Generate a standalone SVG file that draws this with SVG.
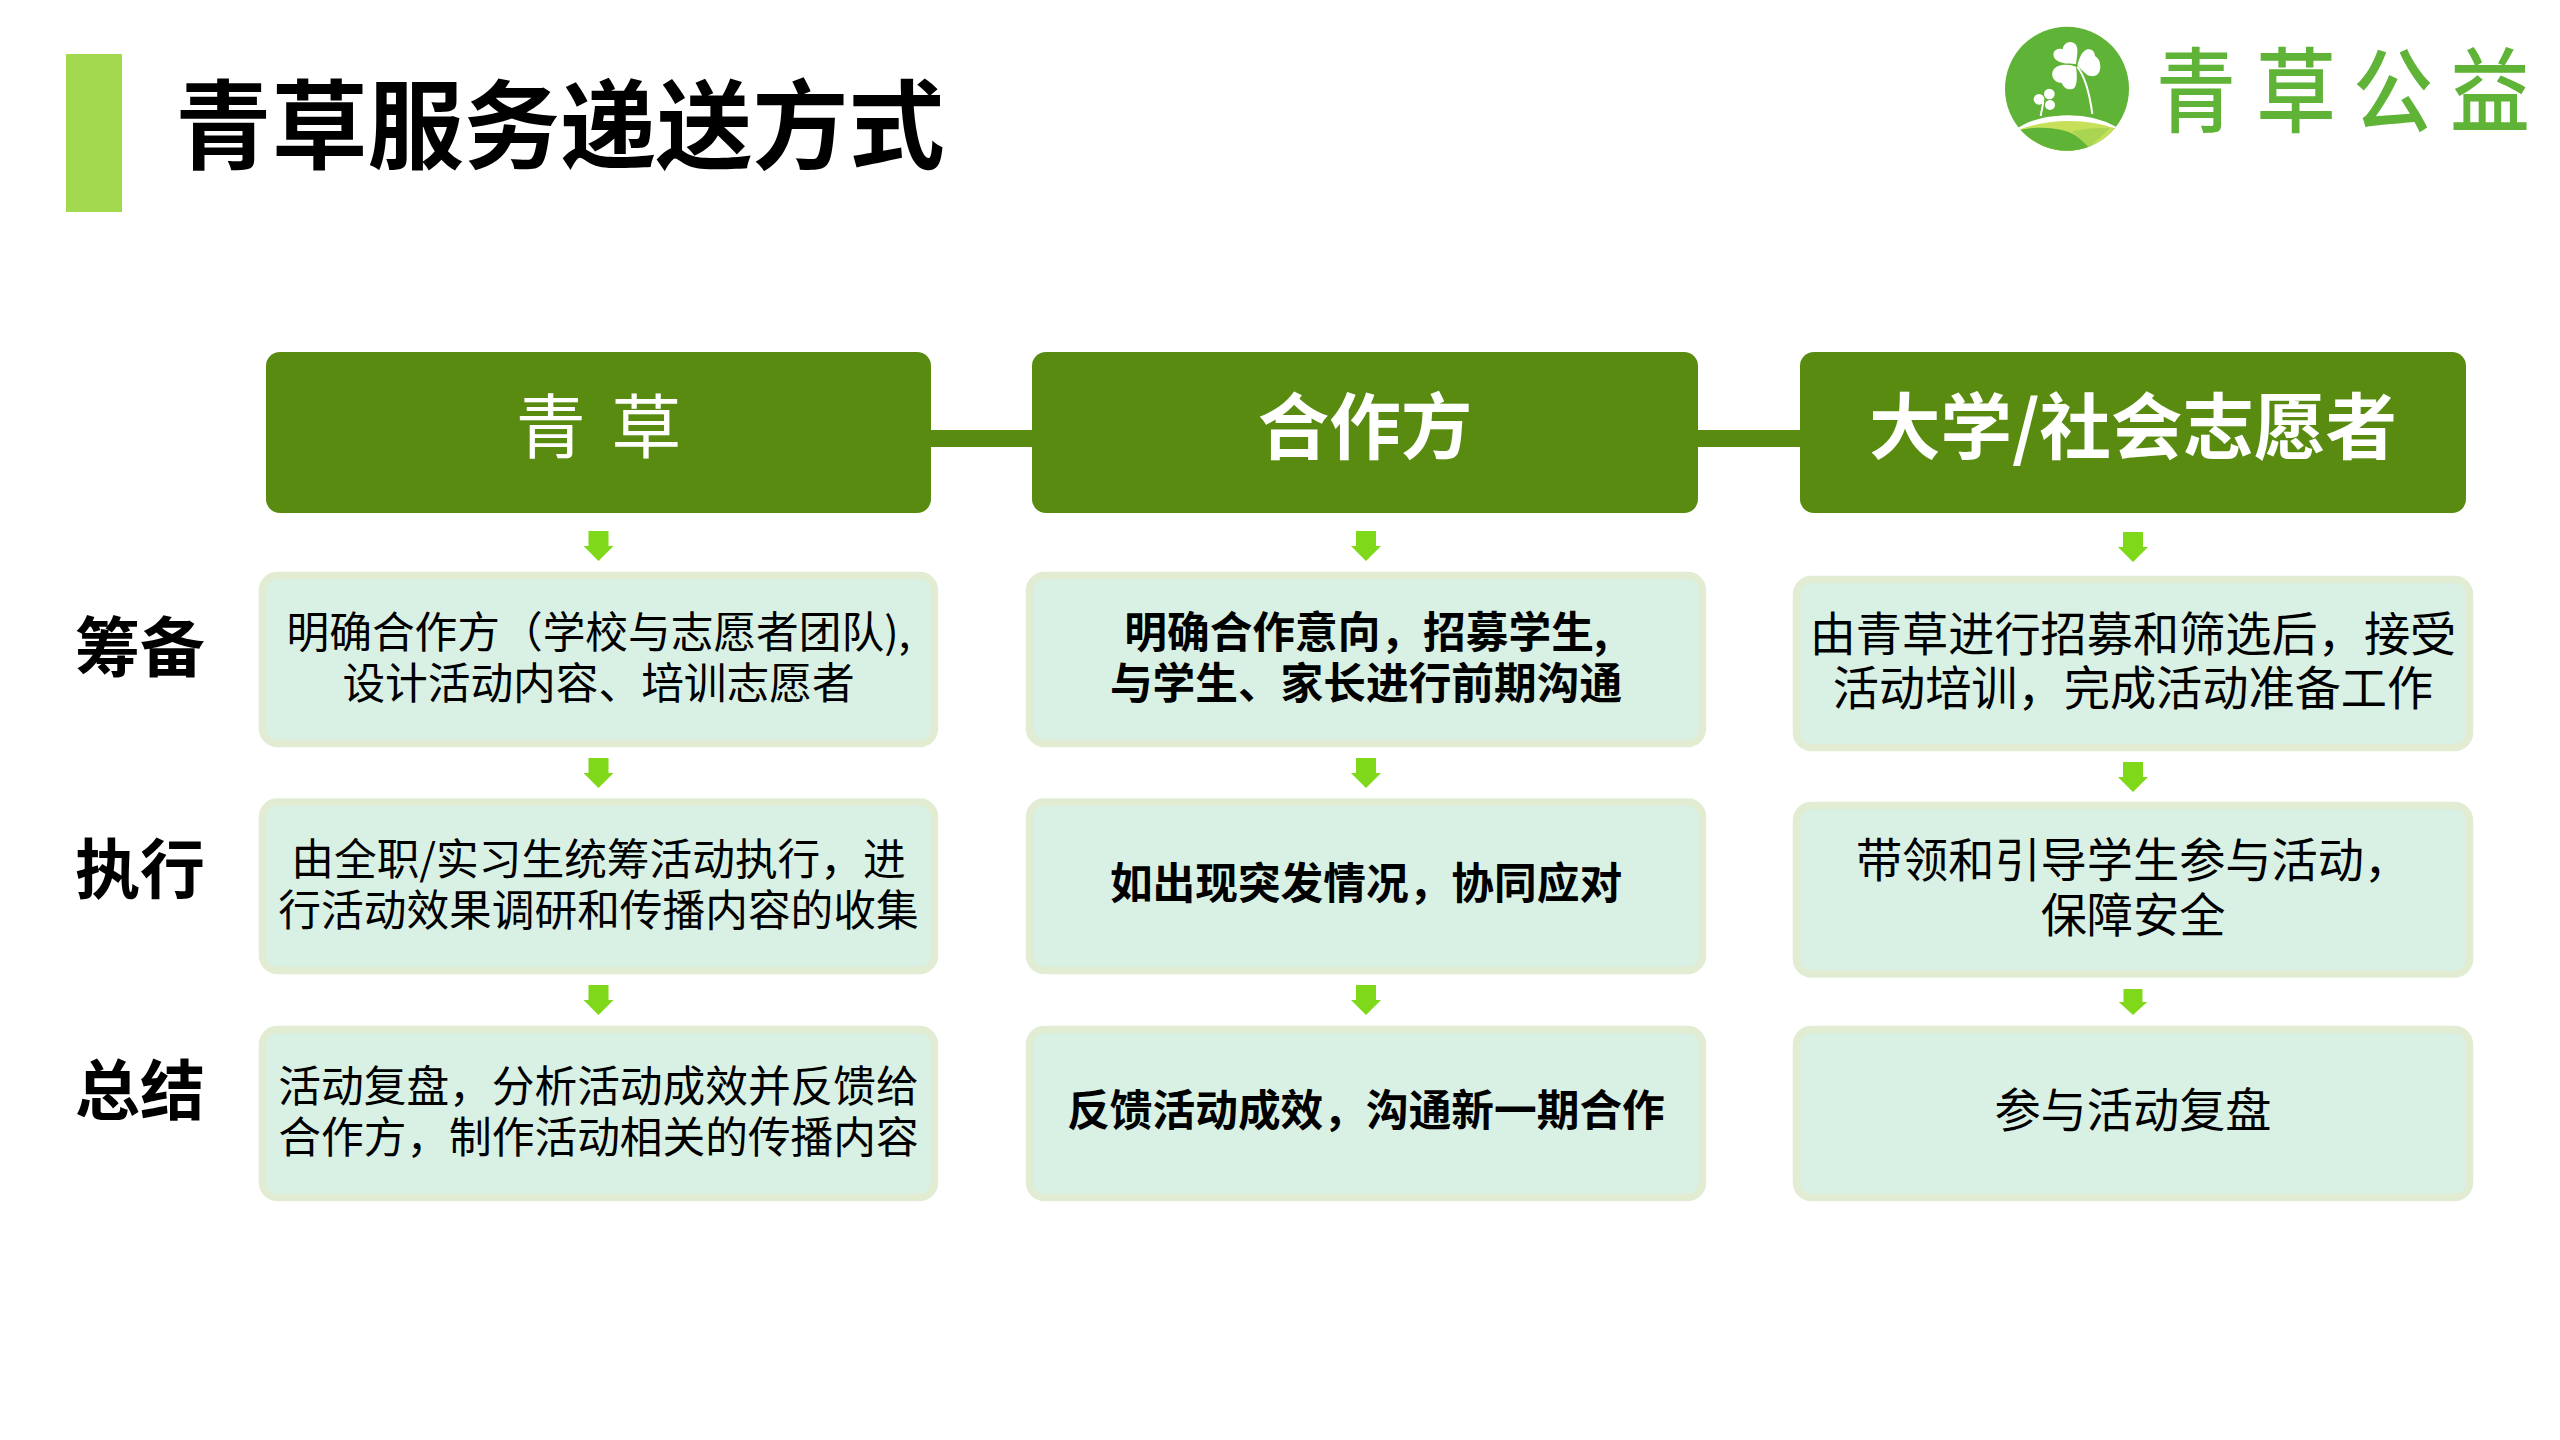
<svg xmlns="http://www.w3.org/2000/svg" width="2560" height="1440" viewBox="0 0 2560 1440">
<defs>
<clipPath id="logoClip"><circle cx="201" cy="206" r="186"/></clipPath>
<polygon id="arrow" points="-10,0 10,0 10,15 15,15 0,30 -15,15 -10,15"/>
</defs>
<style>
text{font-family:"Noto Sans CJK SC","Liberation Sans",sans-serif;text-anchor:middle}
.head{fill:#588B10}
.link{fill:#588B10}
.box{fill:#D9F1E4;stroke:#E1ECD3;stroke-width:7.500}
.arr{fill:#7FD91A}
.h{fill:#fff;font-size:71.500px;font-weight:700}
.b{fill:#000;font-size:42.700px;font-weight:400}
.c{fill:#000;font-size:42.700px;font-weight:700}
.v{fill:#000;font-size:46.200px;font-weight:400}
.side{fill:#000;font-size:65px;font-weight:700}
.w{fill:#fff}
.lt{fill:#5FB336;font-size:80px;font-weight:500}
</style>
<rect width="2560" height="1440" fill="#fff"/>
<g id="title">
<rect x="66" y="54" width="56" height="158" fill="#A2D94F"/>
<text x="560" y="161" font-size="96.200" font-weight="700" fill="#000">青草服务递送方式</text>
</g>
<g id="logo">
<g transform="translate(2000 20) scale(0.33333)">
<circle cx="201" cy="206" r="186" fill="#5FB336"/>
<g clip-path="url(#logoClip)">
<path d="M50 330C120 282 260 280 350 325L340 400L50 400Z" fill="#C6E05A"/>
<path d="M215 335C250 325 300 322 330 325L265 385C250 365 235 345 215 335Z" fill="#A9D552"/>
<path d="M50 332C120 315 190 325 225 345C245 360 258 372 268 385L180 420L50 400Z" fill="#5FB336"/>
<path d="M50 330C110 285 250 268 350 324C250 288 130 296 50 330Z" fill="#fff" stroke="#fff" stroke-width="5"/>
</g>
<g class="w">
<path d="M228 132C200 132 170 130 162 112C155 95 170 82 188 88C190 72 205 62 220 68C238 76 232 100 228 132Z"/>
<path d="M232 135C240 110 245 95 262 88C280 85 285 100 285 108C300 115 305 140 298 155C290 172 272 170 262 165C250 155 240 145 232 135Z"/>
<path d="M228 140C215 135 190 130 170 140C152 150 152 175 170 185C178 188 180 188 185 188C190 205 210 213 222 205C232 195 232 165 228 140Z"/>
<circle cx="148" cy="222" r="16"/><circle cx="117" cy="238" r="16"/><circle cx="150" cy="255" r="15"/>
</g>
<path d="M232 140C255 170 268 215 277 282M130 245C128 260 124 275 122 288" fill="none" stroke="#fff" stroke-width="6"/>
</g>
<text class="lt" transform="translate(2196 125) scale(1 1.150)" x="0" y="0">青</text>
<text class="lt" transform="translate(2296 125) scale(1 1.150)" x="0" y="0">草</text>
<text class="lt" transform="translate(2393 125) scale(1 1.150)" x="0" y="0">公</text>
<text class="lt" transform="translate(2490 125) scale(1 1.150)" x="0" y="0">益</text>
</g>
<g id="connectors">
<rect class="link" x="931" y="430" width="101" height="17"/>
<rect class="link" x="1698" y="430" width="102" height="17"/>
<use class="arr" href="#arrow" x="598.500" y="531"/>
<use class="arr" href="#arrow" x="598.500" y="758"/>
<use class="arr" href="#arrow" x="598.500" y="985"/>
<use class="arr" href="#arrow" x="1366" y="531"/>
<use class="arr" href="#arrow" x="1366" y="758"/>
<use class="arr" href="#arrow" x="1366" y="985"/>
<use class="arr" href="#arrow" x="2133" y="532"/>
<use class="arr" href="#arrow" x="2133" y="762"/>
<use class="arr" href="#arrow" transform="translate(2133 989) scale(0.950 0.870)"/>
</g>
<g id="head-1"><rect class="head" x="266" y="352" width="665" height="161" rx="14"/><text class="h" x="598.500" y="453" style="font-weight:400;font-size:70px" word-spacing="10">青 草</text></g>
<g id="head-2"><rect class="head" x="1032" y="352" width="666" height="161" rx="14"/><text class="h" x="1365" y="453">合作方</text></g>
<g id="head-3"><rect class="head" x="1800" y="352" width="666" height="161" rx="14"/><text class="h" x="2133" y="453">大学/社会志愿者</text></g>
<g id="side-1"><text class="side" x="140" y="671">筹备</text></g>
<g id="side-2"><text class="side" x="140" y="893">执行</text></g>
<g id="side-3"><text class="side" x="140" y="1114">总结</text></g>
<g id="c1r1"><rect class="box" x="262.500" y="575.500" width="672" height="168" rx="15"/><text class="b"><tspan x="598.500" y="647.500">明确合作方（学校与志愿者团队),</tspan><tspan x="598.500" y="698.500">设计活动内容、培训志愿者</tspan></text></g>
<g id="c1r2"><rect class="box" x="262.500" y="802" width="672" height="168.500" rx="15"/><text class="b"><tspan x="598.500" y="874.500">由全职/实习生统筹活动执行，进</tspan><tspan x="598.500" y="925.500">行活动效果调研和传播内容的收集</tspan></text></g>
<g id="c1r3"><rect class="box" x="262.500" y="1029.500" width="672" height="168" rx="15"/><text class="b"><tspan x="598.500" y="1101.500">活动复盘，分析活动成效并反馈给</tspan><tspan x="598.500" y="1152.500">合作方，制作活动相关的传播内容</tspan></text></g>
<g id="c2r1"><rect class="box" x="1029.500" y="575.500" width="673" height="168" rx="15"/><text class="c"><tspan x="1366" y="647.500">明确合作意向，招募学生,</tspan><tspan x="1366" y="698.500">与学生、家长进行前期沟通</tspan></text></g>
<g id="c2r2"><rect class="box" x="1029.500" y="802" width="673" height="168.500" rx="15"/><text class="c" x="1366" y="899">如出现突发情况，协同应对</text></g>
<g id="c2r3"><rect class="box" x="1029.500" y="1029.500" width="673" height="168" rx="15"/><text class="c" x="1366" y="1126">反馈活动成效，沟通新一期合作</text></g>
<g id="c3r1"><rect class="box" x="1796.500" y="579.500" width="673" height="168" rx="15"/><text class="v"><tspan x="2133" y="651">由青草进行招募和筛选后，接受</tspan><tspan x="2133" y="705">活动培训，完成活动准备工作</tspan></text></g>
<g id="c3r2"><rect class="box" x="1796.500" y="805.500" width="673" height="168.500" rx="15"/><text class="v"><tspan x="2133" y="877">带领和引导学生参与活动，</tspan><tspan x="2133" y="932">保障安全</tspan></text></g>
<g id="c3r3"><rect class="box" x="1796.500" y="1029.500" width="673" height="168" rx="15"/><text class="v" x="2133" y="1127">参与活动复盘</text></g>
</svg>
